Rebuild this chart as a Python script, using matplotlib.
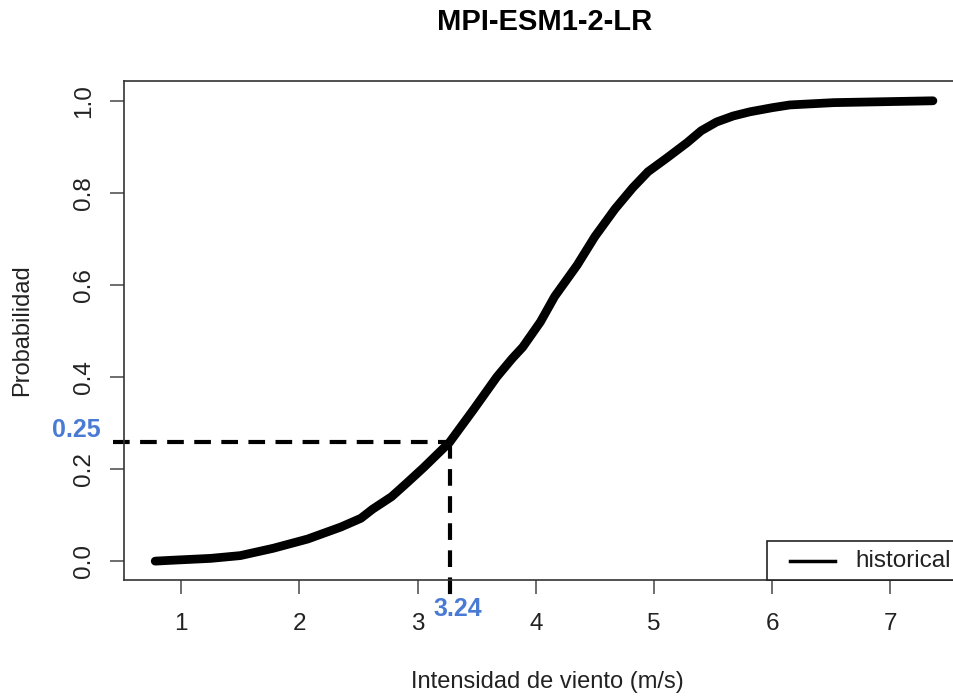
import matplotlib
matplotlib.use("Agg")
import matplotlib.pyplot as plt
from matplotlib.lines import Line2D
from matplotlib.patches import Rectangle

plt.rcParams['font.family'] = ['Liberation Sans', 'DejaVu Sans']

title = "MPI-ESM1-2-LR"
xlabel = "Intensidad de viento (m/s)"
ylabel = "Probabilidad"
legend_label = "historical"

wind = [0.78, 0.93, 1.25, 1.50, 1.78, 2.07, 2.35, 2.52, 2.62, 2.78, 2.91, 3.05, 3.19,
        3.27, 3.47, 3.67, 3.80, 3.89, 4.04, 4.16, 4.35, 4.50, 4.67, 4.82, 4.95, 5.11,
        5.28, 5.40, 5.53, 5.67, 5.81, 6.00, 6.15, 6.52, 7.36]
prob = [0.000, 0.002, 0.006, 0.012, 0.028, 0.048, 0.074, 0.093, 0.113, 0.140, 0.170,
        0.203, 0.238, 0.258, 0.328, 0.400, 0.440, 0.465, 0.520, 0.575, 0.643, 0.705,
        0.765, 0.811, 0.846, 0.876, 0.909, 0.935, 0.954, 0.967, 0.976, 0.985, 0.991,
        0.996, 1.000]

q_prob = 0.258
q_wind = 3.27
q_prob_label = "0.25"
q_wind_label = "3.24"

xticks = [1, 2, 3, 4, 5, 6, 7]
yticks = [0.0, 0.2, 0.4, 0.6, 0.8, 1.0]

W, H = 954, 697
fig = plt.figure(figsize=(W/100, H/100), dpi=100)
ax = fig.add_axes([124/W, 117/H, (966-124)/W, (580-81)/H])

ax.plot(wind, prob, color='black', lw=6.3, solid_capstyle='round', solid_joinstyle='round')

xmin, xmax = 0.516, 7.64
ymin, ymax = -0.041, 1.043
ax.set_xlim(xmin, xmax)
ax.set_ylim(ymin, ymax)

ax.plot([0.42, q_wind], [q_prob, q_prob], color='black', lw=3, dashes=(4, 2.5), clip_on=False)
ax.plot([q_wind, q_wind], [q_prob, -0.075], color='black', lw=3, dashes=(4, 2.5), clip_on=False)

blue = '#4a7bd4'
ax.text(0.11, q_prob + 0.0, q_prob_label, color=blue, fontsize=18, fontweight='bold',
        ha='center', va='bottom', clip_on=False)
ax.text(q_wind + 0.07, -0.078, q_wind_label, color=blue, fontsize=18, fontweight='bold',
        ha='center', va='top', clip_on=False)

ax.set_xticks(xticks)
ax.set_xticklabels([str(t) for t in xticks])
ax.set_yticks(yticks)
ax.set_yticklabels([f"{t:.1f}" for t in yticks], rotation=90, va='center')
for s in ax.spines.values():
    s.set_color('#333333')
    s.set_linewidth(1.2)
ax.tick_params(axis='both', direction='out', length=10, width=1.2, color='#555555',
               labelsize=17.5, labelcolor='#222222')
ax.tick_params(axis='x', pad=14)
ax.tick_params(axis='y', pad=11)

fig.text(545/W, 1 - 22/H, title, fontsize=21, fontweight='bold', ha='center', va='center')
fig.text(547/W, 1 - 682/H, xlabel, fontsize=17, ha='center', va='center', color='#222222')
fig.text(22/W, 1 - 330/H, ylabel, fontsize=17, ha='center', va='center', rotation=90,
         color='#222222')

# legend (drawn in pixel space, extends past the right edge like the reference)
tr = fig.transFigure
fig.patches.append(Rectangle((767/W, 1 - 580/H), 230/W, 39/H, transform=tr,
                             facecolor='white', edgecolor='#222222', lw=1.2))
fig.lines.append(Line2D([790/W, 835/W], [1 - 561/H, 1 - 561/H], transform=tr,
                        color='black', lw=2.5))
fig.text(855/W, 1 - 561/H, legend_label, fontsize=17.5, ha='left', va='center',
         color='#222222')

fig.savefig("out.png", dpi=100)
